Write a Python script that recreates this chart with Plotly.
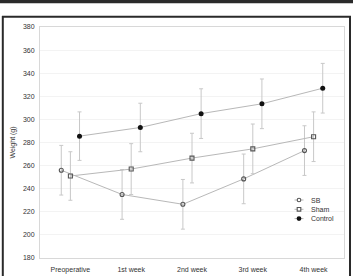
import plotly.graph_objects as go

categories = ["Preoperative", "1st week", "2nd week", "3rd week", "4th week"]
sb = [256, 235, 226.5, 248.5, 273]
sb_err = [21.5, 21.5, 21.5, 21.5, 21.5]
sham = [251, 257, 266.5, 274.5, 285]
sham_err = [21, 22, 21.5, 21.5, 21.5]
control = [285.5, 293, 305, 313.5, 327]
control_err = [21, 21, 21.5, 21.5, 21.5]
yticks = [180, 200, 220, 240, 260, 280, 300, 320, 340, 360, 380]

W, H = 353, 276
L, R, T, B = 40, 9, 27, 18
pw, ph = W - L - R, H - T - B

def px(x):
    return (x - L) / pw

def py(y):
    return (H - B - y) / ph

series = [
    ("SB", sb, sb_err, -0.15, dict(symbol="circle-open", size=4, color="#555", line=dict(width=1.1, color="#555"))),
    ("Sham", sham, sham_err, 0.0, dict(symbol="square-open", size=4, color="#555", line=dict(width=1.1, color="#555"))),
    ("Control", control, control_err, 0.15, dict(symbol="circle", size=5, color="#111", line=dict(width=0))),
]

fig = go.Figure()
for name, vals, errs, off, mk in series:
    xs = [i + off for i in range(len(categories))]
    fig.add_trace(go.Scatter(
        x=xs, y=vals, name=name, mode="lines+markers",
        line=dict(color="#b8b8b8", width=1),
        marker=mk, showlegend=False,
        error_y=dict(type="data", array=errs, visible=True, color="#c8c8c8", thickness=1, width=2),
    ))

shapes = [
    dict(type="rect", xref="paper", yref="paper", x0=px(-2), x1=px(W + 2), y0=py(3.3), y1=py(-2),
         fillcolor="#2a2a2a", line=dict(width=0), layer="above"),
    dict(type="line", xref="paper", yref="paper", x0=px(2.8), x1=px(2.8), y0=py(16), y1=py(H + 5),
         line=dict(color="#2a2a2a", width=2)),
    dict(type="line", xref="paper", yref="paper", x0=px(2), x1=px(351), y0=py(16.8), y1=py(16.8),
         line=dict(color="#2a2a2a", width=2)),
    dict(type="line", xref="paper", yref="paper", x0=px(350), x1=px(350), y0=py(16), y1=py(H + 5),
         line=dict(color="#2a2a2a", width=2)),
]
annotations = []

# legend (custom, compact)
leg_x, leg_y0, leg_dy = 299, 200, 9.3
for k, (name, vals, errs, off, mk) in enumerate(series):
    yy = leg_y0 + k * leg_dy
    shapes.append(dict(type="line", xref="paper", yref="paper", x0=px(294.5), x1=px(303.5),
                       y0=py(yy), y1=py(yy), line=dict(color="#b8b8b8", width=1)))
    r = 1.8
    if mk["symbol"] == "square-open":
        shapes.append(dict(type="rect", xref="paper", yref="paper", x0=px(leg_x - r), x1=px(leg_x + r),
                           y0=py(yy + r), y1=py(yy - r), fillcolor="white", line=dict(color="#555", width=1.1)))
    elif mk["symbol"] == "circle-open":
        shapes.append(dict(type="circle", xref="paper", yref="paper", x0=px(leg_x - r), x1=px(leg_x + r),
                           y0=py(yy + r), y1=py(yy - r), fillcolor="white", line=dict(color="#555", width=1.1)))
    else:
        r = 2.4
        shapes.append(dict(type="circle", xref="paper", yref="paper", x0=px(leg_x - r), x1=px(leg_x + r),
                           y0=py(yy + r), y1=py(yy - r), fillcolor="#111", line=dict(width=0)))
    annotations.append(dict(xref="paper", yref="paper", x=px(309), y=py(yy), text=name, showarrow=False,
                            xanchor="left", yanchor="middle", font=dict(size=7, color="#333")))

fig.update_layout(
    width=W, height=H,
    margin=dict(l=L, r=R, t=T, b=B, autoexpand=False),
    paper_bgcolor="white", plot_bgcolor="white",
    font=dict(family="Liberation Sans, Arial, sans-serif", size=7, color="#333"),
    showlegend=False,
    xaxis=dict(range=[-0.5, 4.5], tickvals=list(range(len(categories))), ticktext=categories,
               showgrid=False, zeroline=False, showline=True, mirror=True, linecolor="#d8d8d8",
               linewidth=1, ticks="outside", ticklen=5, tickcolor="rgba(0,0,0,0)", automargin=False),
    yaxis=dict(range=[180, 380], tickvals=yticks, showgrid=True, gridcolor="#f3f3f3",
               zeroline=False, showline=True, mirror=True, linecolor="#d8d8d8", linewidth=1,
               ticks="outside", ticklen=3, tickcolor="rgba(0,0,0,0)", automargin=False,
               title=dict(text="Weight (g)", font=dict(size=7), standoff=6)),
    shapes=shapes,
    annotations=annotations,
)

fig.write_html("out.html")
